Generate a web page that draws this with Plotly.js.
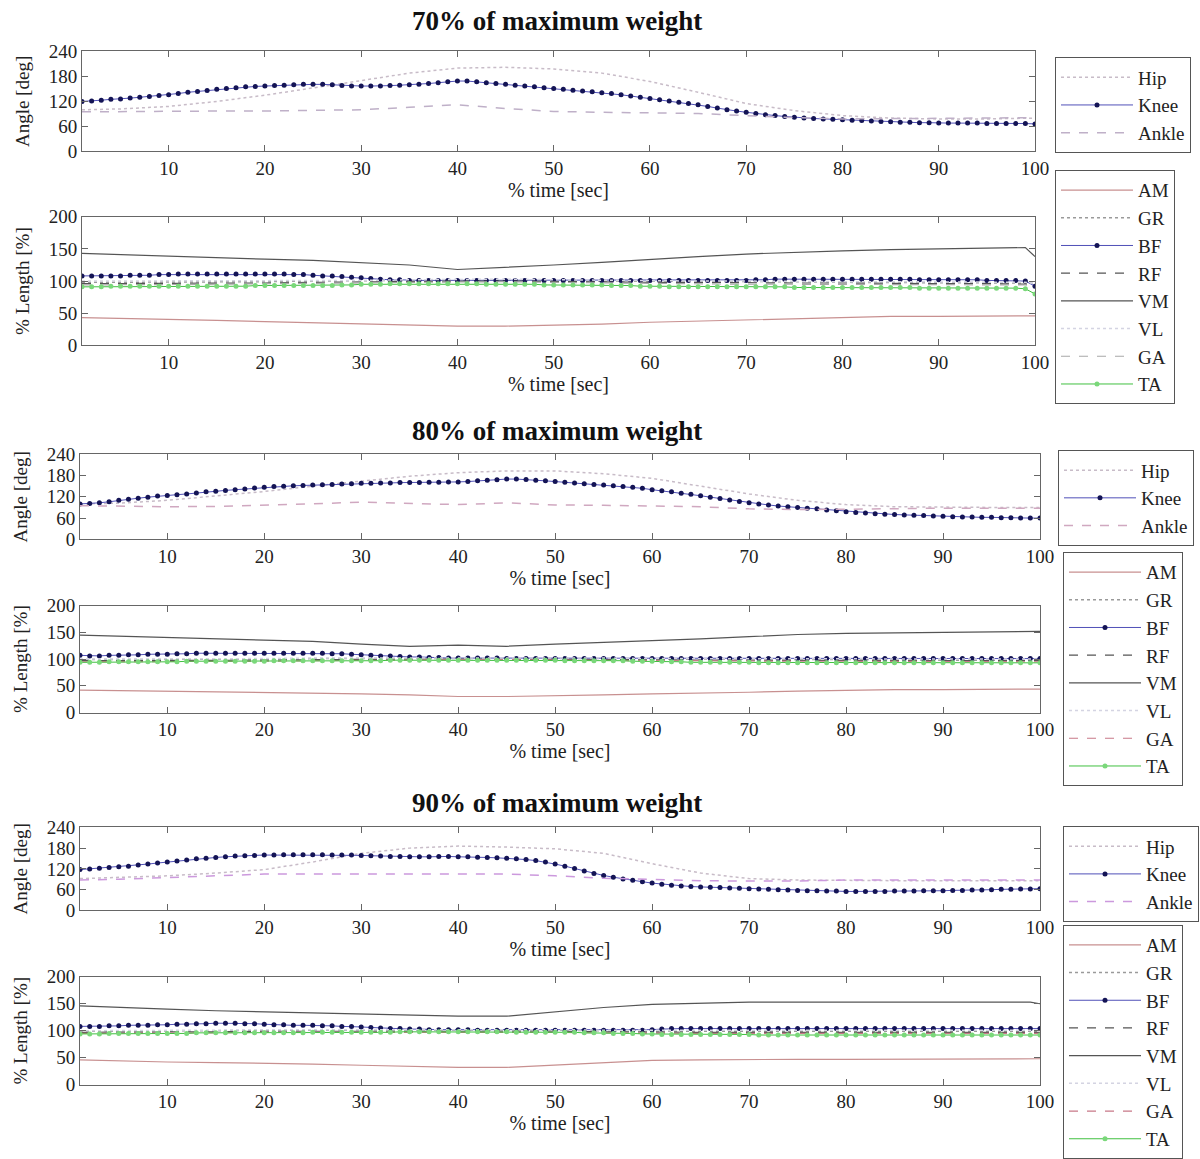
<!DOCTYPE html>
<html>
<head>
<meta charset="utf-8">
<script src="https://cdn.plot.ly/plotly-3.0.1.min.js"></script>
<style>html,body{margin:0;padding:0;background:#fff;}#chart{width:1200px;height:1159px;}</style>
</head>
<body>
<div id="chart"></div>
<script>
// ---------- time axes ----------
const TIME = [1,2,3,4,5,6,7,8,9,10,11,12,13,14,15,16,17,18,19,20,21,22,23,24,25,26,27,28,29,30,
  31,32,33,34,35,36,37,38,39,40,41,42,43,44,45,46,47,48,49,50,51,52,53,54,55,56,57,58,59,60,
  61,62,63,64,65,66,67,68,69,70,71,72,73,74,75,76,77,78,79,80,81,82,83,84,85,86,87,88,89,90,
  91,92,93,94,95,96,97,98,99,100];
const TIME_A = [1,5,10,15,20,25,30,35,40,45,50,55,60,65,70,75,80,85,90,95,100];
const TIME_M = [1,5,10,15,20,25,30,35,40,45,50,55,60,65,70,75,80,85,90,95,99,100];

const PANEL_TITLES = ["70% of maximum weight","80% of maximum weight","90% of maximum weight"];
const ANGLE_NAMES = ["Hip","Knee","Ankle"];
const MUSCLE_NAMES = ["AM","GR","BF","RF","VM","VL","GA","TA"];
const ANGLE_TICKS = [0,60,120,180,240];
const LENGTH_TICKS = [0,50,100,150,200];
const TIME_TICKS = [10,20,30,40,50,60,70,80,90,100];

// ---------- 70% ----------
const hip70   = [100,102,108,120,135,152,170,188,200,202,198,188,168,142,115,98,86,80,78,78,80];
const ankle70 = [95,96,97,97,97,98,100,106,112,103,96,94,93,91,86,81,78,79,80,80,81];
const knee70 = [120,121,123,125,126,128,130,132,134,136,
  139,142,144,146,149,151,153,155,156,157,
  158,159,160,161,161,161,160,158,157,157,
  157,157,158,159,160,161,163,165,167,169,
  169,167,165,163,161,159,157,155,153,151,
  149,147,145,143,141,139,136,133,130,127,
  124,121,118,115,112,108,104,100,97,94,
  91,88,86,84,82,80,79,78,77,76,
  75,74,73,72,71,70,70,69,69,68,
  68,68,68,68,67,67,67,67,67,66];
const am70 = [43,42,40,39,37,35,33,31,30,30,31,33,36,38,40,42,44,45,45,46,46,46];
const gr70 = [98,98,99,99,99,100,100,101,102,102,101,100,100,99,99,99,98,98,98,97,97,96];
const rf70 = [96,96,97,97,97,98,99,100,100,100,99,99,98,98,97,97,97,96,96,96,96,95];
const vm70 = [143,141,138,136,134,132,129,125,118,121,125,129,134,138,142,145,147,149,150,151,152,138];
const vl70 = [100,100,100,101,101,101,101,102,103,103,102,101,100,100,100,99,99,99,99,98,98,96];
const ga70 = [94,94,95,95,96,96,97,98,99,99,98,97,96,96,95,95,95,94,94,94,94,93];
const bf70 = [108,108,108,108,108,109,109,109,110,110,
  111,111,111,111,111,111,111,111,111,111,
  111,111,110,110,109,108,108,107,106,105,
  104,103,102,102,101,101,101,101,101,101,
  101,101,101,101,101,101,101,101,101,101,
  101,101,101,101,101,101,101,101,101,101,
  101,101,101,101,101,101,101,101,101,101,
  102,102,103,103,103,103,103,103,103,103,
  103,103,103,103,103,103,103,102,102,102,
  102,102,102,102,101,101,101,101,100,92];
const ta70 = [91,91,91,92,92,92,92,92,92,92,
  92,92,92,92,92,92,92,92,93,93,
  93,93,93,93,93,93,93,94,94,95,
  95,95,96,96,96,96,96,96,96,96,
  96,96,95,95,95,95,95,95,94,94,
  94,94,94,94,94,93,93,93,92,92,
  92,91,91,91,91,91,91,91,91,91,
  91,91,91,91,90,90,90,90,90,90,
  90,90,90,90,90,90,90,89,89,89,
  89,89,89,89,89,89,89,89,88,80];

// ---------- 80% ----------
const hip80   = [100,102,110,122,135,150,165,178,188,193,193,185,172,150,128,110,98,92,90,90,90];
const ankle80 = [95,93,92,93,96,100,105,102,98,103,97,96,95,92,86,84,85,87,88,88,88];
const knee80 = [100,101,103,106,110,113,116,119,122,124,
  126,128,131,134,136,138,140,142,145,147,
  149,150,151,152,153,154,155,156,157,158,
  158,159,159,160,160,160,161,161,162,162,
  163,165,167,168,170,170,169,167,165,163,
  161,159,157,155,153,151,149,147,144,140,
  137,134,130,127,123,119,115,111,107,103,
  100,97,94,92,90,88,86,83,81,78,
  76,74,72,71,70,69,68,67,66,65,
  64,63,63,62,62,61,61,60,60,60];
const am80 = [42,41,40,39,38,37,35,33,30,30,31,33,35,36,38,40,42,43,43,44,44,44];
const gr80 = [99,99,99,100,100,101,101,102,102,102,101,101,100,100,99,99,99,99,98,98,98,98];
const rf80 = [97,97,97,98,98,99,100,100,100,100,100,99,99,98,98,98,97,97,97,97,97,97];
const vm80 = [145,143,140,137,135,133,128,124,126,124,128,131,134,138,142,146,148,149,150,151,152,152];
const vl80 = [100,100,101,101,101,102,102,103,103,103,102,102,101,101,100,100,100,100,100,100,100,100];
const ga80 = [95,95,95,96,96,97,98,99,99,99,98,98,97,97,96,96,96,96,95,95,95,95];
const bf80 = [107,106,106,107,107,108,108,109,109,109,
  110,110,111,111,111,111,111,111,111,111,
  111,111,111,111,111,111,110,110,109,108,
  107,106,106,105,104,104,103,103,102,102,
  102,102,102,102,101,101,101,101,101,101,
  101,101,101,101,101,101,101,101,101,101,
  101,101,101,101,101,101,101,101,101,101,
  101,101,101,101,101,101,101,101,101,101,
  101,101,101,101,101,101,101,101,101,101,
  101,101,101,101,101,101,101,101,101,101];
const ta80 = [94,94,94,95,95,95,95,95,95,95,
  95,96,96,96,96,96,96,96,96,96,
  97,97,97,97,97,97,97,97,97,97,
  97,97,98,98,98,98,98,98,98,98,
  98,98,98,98,98,98,98,98,98,98,
  97,97,97,97,97,97,97,96,96,96,
  96,95,95,94,94,94,94,94,94,94,
  93,93,93,93,93,93,93,93,93,93,
  93,93,93,93,93,93,93,93,93,93,
  93,93,93,93,93,93,93,93,93,93];

// ---------- 90% ----------
const hip90   = [92,95,100,108,118,140,165,180,186,183,178,165,135,108,92,88,86,86,86,86,86];
const ankle90 = [88,90,95,100,105,105,105,103,105,105,100,93,90,86,85,85,88,88,88,88,88];
const knee90 = [118,120,122,124,126,128,131,134,137,140,
  143,146,149,151,153,155,157,158,159,160,
  160,161,161,161,161,161,160,160,160,159,
  158,157,156,156,155,155,155,156,156,155,
  155,154,153,152,151,149,147,144,140,134,
  128,121,114,107,101,96,91,87,83,79,
  76,73,71,69,68,67,66,65,64,63,
  62,61,60,59,58,57,57,56,56,55,
  55,55,55,55,56,56,56,57,57,57,
  58,58,59,59,60,61,61,62,62,63];
const am90 = [46,44,42,41,40,38,36,34,32,32,36,41,45,46,47,47,47,47,47,47,47,48];
const gr90 = [99,99,100,100,101,101,102,102,102,102,101,100,99,99,99,99,99,99,99,99,99,99];
const rf90 = [97,97,98,98,99,99,100,100,100,100,99,98,97,97,97,97,97,97,97,97,97,97];
const vm90 = [146,143,140,137,135,132,130,129,127,127,135,143,149,151,153,153,153,153,153,153,153,150];
const vl90 = [100,100,101,101,102,102,103,103,103,103,102,101,101,101,101,101,101,101,101,101,101,101];
const ga90 = [95,95,96,96,97,97,98,98,98,98,97,96,95,95,95,95,95,95,95,95,95,95];
const bf90 = [108,108,108,109,109,110,110,110,111,111,
  112,112,113,113,114,114,114,113,113,112,
  111,111,110,110,110,109,109,108,108,107,
  106,105,104,104,103,103,102,102,102,102,
  102,101,101,101,101,101,101,101,101,101,
  101,101,101,101,101,101,101,101,101,102,
  103,104,104,104,104,104,104,104,104,104,
  104,104,104,104,104,104,104,104,104,104,
  104,104,104,104,104,104,104,104,104,104,
  104,104,104,104,104,104,104,104,104,104];
const ta90 = [94,94,94,95,95,95,95,95,95,95,
  95,95,96,96,96,96,96,96,96,96,
  96,96,96,96,97,97,97,97,97,97,
  97,97,97,98,98,98,98,98,98,98,
  98,98,98,98,98,97,97,97,97,97,
  97,97,96,96,96,95,95,95,94,94,
  93,93,93,93,93,93,93,93,93,93,
  92,92,92,92,92,92,92,92,92,92,
  92,92,92,92,92,92,92,92,92,92,
  92,92,92,92,92,92,92,92,92,92];

// ---------- layout geometry (pixels) ----------
const W = 1200, H = 1159;
const FONT = "Liberation Serif, Times New Roman, serif";
const boxes = [
  {x0:82, x1:1035, y0:52,  y1:153},
  {x0:82, x1:1035, y0:219, y1:349},
  {x0:80, x1:1040, y0:459, y1:545},
  {x0:80, x1:1040, y0:612, y1:720},
  {x0:80, x1:1040, y0:836, y1:920},
  {x0:80, x1:1040, y0:987, y1:1096}
];
const legendBoxes = [
  {x:1055, y:58},
  {x:1055, y:172},
  {x:1058, y:455},
  {x:1063, y:558},
  {x:1063, y:835},
  {x:1063, y:935}
];
const titleY = [21, 436, 811];

const angleSets = [
  {hip:hip70, knee:knee70, ankle:ankle70, ankleColor:'#bfb0c8'},
  {hip:hip80, knee:knee80, ankle:ankle80, ankleColor:'#d0a8c0'},
  {hip:hip90, knee:knee90, ankle:ankle90, ankleColor:'#cc99dd'}
];
const muscleSets = [
  {am:am70, gr:gr70, bf:bf70, rf:rf70, vm:vm70, vl:vl70, ga:ga70, ta:ta70, gaColor:'#a8a8a8'},
  {am:am80, gr:gr80, bf:bf80, rf:rf80, vm:vm80, vl:vl80, ga:ga80, ta:ta80, gaColor:'#c87888'},
  {am:am90, gr:gr90, bf:bf90, rf:rf90, vm:vm90, vl:vl90, ga:ga90, ta:ta90, gaColor:'#c87888'}
];

const traces = [];
const layout = {
  width: W, height: H,
  margin: {l:0, r:0, t:0, b:0},
  paper_bgcolor: '#ffffff', plot_bgcolor: '#ffffff',
  font: {family: FONT, size: 18, color: '#222'},
  showlegend: true,
  annotations: []
};

function ax(i) { return i === 0 ? '' : String(i + 1); }

for (let p = 0; p < 3; p++) {
  const ia = 2 * p, im = 2 * p + 1;
  const A = angleSets[p], M = muscleSets[p];
  const la = 'legend' + (ia === 0 ? '' : (ia + 1));
  const lm = 'legend' + (im + 1);
  const xa = 'x' + ax(ia), ya = 'y' + ax(ia);
  const xm = 'x' + ax(im), ym = 'y' + ax(im);

  // angle traces
  traces.push({x: TIME_A, y: A.hip, name: ANGLE_NAMES[0], xaxis: xa, yaxis: ya, legend: la, mode: 'lines',
    line: {color: '#c8bcc8', width: 1.5, dash: 'dot'}});
  traces.push({x: TIME, y: A.knee, name: ANGLE_NAMES[1], xaxis: xa, yaxis: ya, legend: la, mode: 'lines+markers',
    line: {color: '#5050b8', width: 1}, marker: {color: '#141455', size: 5}});
  traces.push({x: TIME_A, y: A.ankle, name: ANGLE_NAMES[2], xaxis: xa, yaxis: ya, legend: la, mode: 'lines',
    line: {color: A.ankleColor, width: 1.5, dash: 'dash'}});

  // muscle traces
  const mdefs = [
    {k:'am', x:TIME_M, line:{color:'#c89090', width:1.2}},
    {k:'gr', x:TIME_M, line:{color:'#9a9a9a', width:1.5, dash:'dot'}},
    {k:'bf', x:TIME,   line:{color:'#5050b8', width:1}, marker:{color:'#141455', size:5}},
    {k:'rf', x:TIME_M, line:{color:'#555555', width:1.2, dash:'dash'}},
    {k:'vm', x:TIME_M, line:{color:'#555555', width:1.2}},
    {k:'vl', x:TIME_M, line:{color:'#d4d4e2', width:1.5, dash:'dot'}},
    {k:'ga', x:TIME_M, line:{color:M.gaColor, width:1.2, dash:'dash'}},
    {k:'ta', x:TIME,   line:{color:'#40c040', width:1}, marker:{color:'#7ad87a', size:5}}
  ];
  mdefs.forEach((d, j) => {
    const t = {x: d.x, y: M[d.k], name: MUSCLE_NAMES[j], xaxis: xm, yaxis: ym, legend: lm,
      mode: d.marker ? 'lines+markers' : 'lines', line: d.line};
    if (d.marker) t.marker = d.marker;
    traces.push(t);
  });

  // axes
  [[ia, ANGLE_TICKS, [0, 240], 'Angle [deg]'], [im, LENGTH_TICKS, [0, 200], '% Length [%]']].forEach(([i, ticks, rng, ytitle]) => {
    const b = boxes[i];
    const common = {showline: true, linecolor: '#666', linewidth: 1, mirror: 'ticks', ticks: 'inside',
      ticklen: 6, tickcolor: '#666', showgrid: false, zeroline: false, automargin: false,
      tickfont: {family: FONT, size: 19, color: '#222'}};
    layout['xaxis' + ax(i)] = Object.assign({}, common, {
      domain: [b.x0 / W, b.x1 / W], anchor: 'y' + ax(i), range: [1, 100],
      tickvals: TIME_TICKS, ticktext: TIME_TICKS.map(String),
      title: {text: '% time [sec]', font: {family: FONT, size: 20, color: '#222'}, standoff: 4}
    });
    layout['yaxis' + ax(i)] = Object.assign({}, common, {
      domain: [1 - b.y1 / H, 1 - b.y0 / H], anchor: 'x' + ax(i), range: rng,
      tickvals: ticks, ticktext: ticks.map(String),
      title: {text: ytitle, font: {family: FONT, size: 19, color: '#222'}, standoff: 14}
    });
  });

  // legends
  [[ia, la], [im, lm]].forEach(([i, name]) => {
    const lb = legendBoxes[i];
    layout[name] = {x: lb.x / W, y: 1 - lb.y / H, xanchor: 'left', yanchor: 'top',
      bgcolor: '#ffffff', bordercolor: '#555', borderwidth: 1,
      font: {family: FONT, size: 19, color: '#222'}, itemwidth: 72, tracegroupgap: 0};
  });

  layout.annotations.push({text: '<b>' + PANEL_TITLES[p] + '</b>', xref: 'paper', yref: 'paper',
    x: 557 / W, y: 1 - titleY[p] / H, xanchor: 'center', yanchor: 'middle', showarrow: false,
    font: {family: FONT, size: 27, color: '#111'}});
}

Plotly.newPlot('chart', traces, layout, {displayModeBar: false, staticPlot: true});
</script>
</body>
</html>
